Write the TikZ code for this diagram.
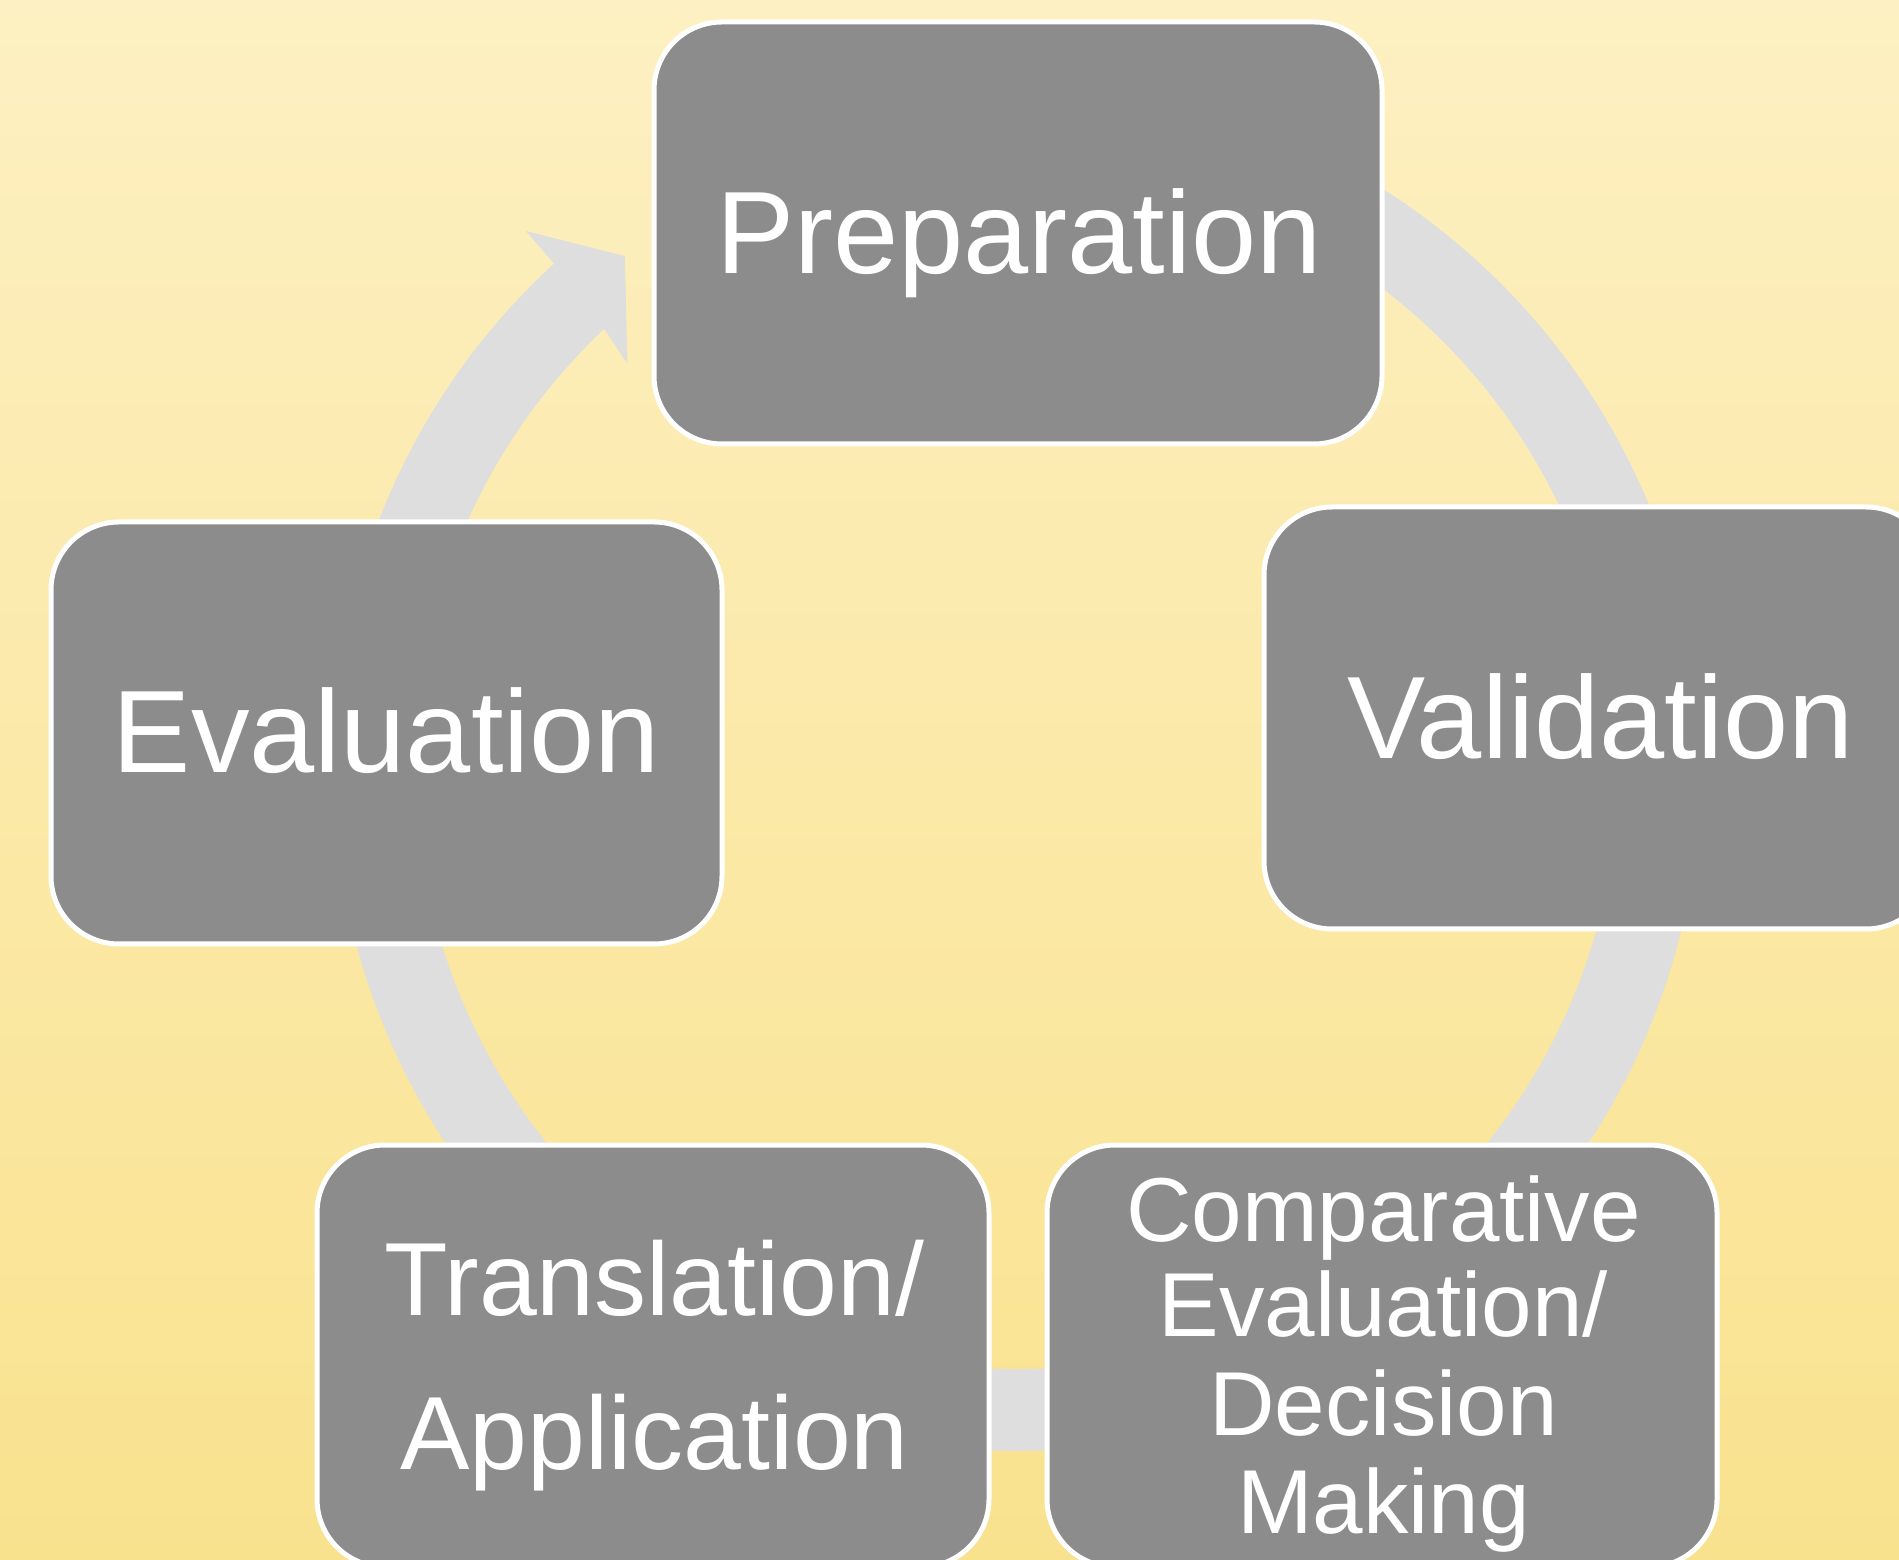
\documentclass[tikz,border=0pt]{standalone}
\usepackage{fontspec}
\setmainfont{Liberation Sans}
\definecolor{bgtop}{HTML}{FDF0C2}
\definecolor{bgbot}{HTML}{F9E28E}
\definecolor{ringgray}{HTML}{DEDEDE}
\definecolor{boxgray}{HTML}{8C8C8C}
\begin{document}
\begin{tikzpicture}[x=0.5pt,y=0.5pt,
  stage/.style={rectangle, draw=white, line width=2.5pt, fill=boxgray,
    rounded corners=34pt, inner sep=0pt, minimum height=211pt},
  lbl/.style={text=white, anchor=base, inner sep=0pt, outer sep=0pt},
  biglbl/.style={lbl, font=\fontsize{58.6pt}{60pt}\selectfont},
  midlbl/.style={lbl, font=\fontsize{52pt}{54pt}\selectfont},
  smalllbl/.style={lbl, font=\fontsize{45.4pt}{48pt}\selectfont}]
\useasboundingbox (0,0) rectangle (1899,1559);
\clip (0,0) rectangle (1899,1559);
% background
\shade[top color=bgtop, bottom color=bgbot] (0,0) rectangle (1899,1559);

% circular arrow behind the stages
\begin{scope}[shift={(1017,792)}]
  \fill[ringgray] (132.6:684) arc[start angle=132.6, end angle=475, radius=684]
    -- (475:602) arc[start angle=475, end angle=133.3, radius=602]
    -- (134:561) -- (127.5:644) -- (132.5:727) -- cycle;
\end{scope}

% stages
\node[stage, minimum width=364pt]   (prep)   at (1018,1326) {};
\node[stage, minimum width=335pt]   (valid)  at (1599,841)  {};
\node[stage, minimum width=335.5pt] (evalu)  at (386.5,826) {};
\node[stage, minimum width=336pt]   (transl) at (653,203)   {};
\node[stage, minimum width=335pt]   (compar) at (1382,203)  {};

% labels
\node[biglbl] (prepT)  at (1019,1285.3) {Preparation};
\node[biglbl] (validT) at (1600.5,800)  {Validation};
\node[biglbl] (evaluT) at (386.5,786.3) {Evaluation};

\node[midlbl] (translA) at (654.5,244)  {Translation/};
\node[midlbl] (translB) at (654.5,89.7) {Application};

\node[smalllbl] (comparA) at (1383.5,318)   {Comparative};
\node[smalllbl] (comparB) at (1383.5,222.3) {Evaluation/};
\node[smalllbl] (comparC) at (1383.5,124)   {Decision};
\node[smalllbl] (comparD) at (1383.5,26)    {Making};
\end{tikzpicture}
\end{document}
